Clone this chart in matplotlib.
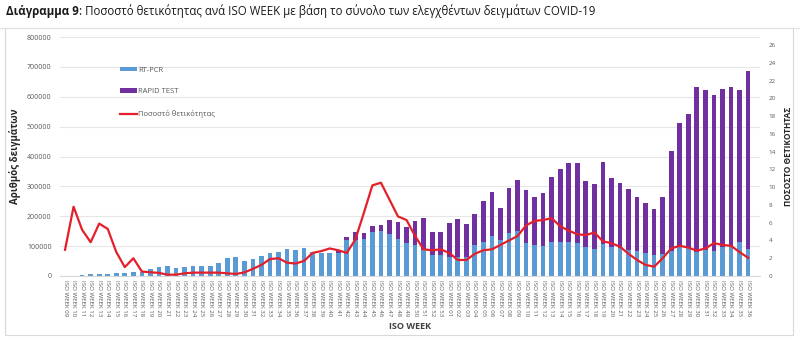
import matplotlib.pyplot as plt
from matplotlib.patches import Patch, Rectangle
from matplotlib.lines import Line2D

plt.rcParams['font.family'] = ['Open Sans', 'DejaVu Sans']

# ISO weeks: 2020 W09..W53, then 2021 W01..W36
weeks = [f"ISO WEEK {w:02d}" for w in range(9, 54)] + [f"ISO WEEK {w:02d}" for w in range(1, 37)]

rt_pcr = [
    0, 0, 3000, 6500, 7500, 8000, 9000, 10000, 12000, 15000,
    25000, 29000, 33000, 26000, 29000, 33000, 33000, 33000, 42000, 61000,
    62000, 51000, 56000, 66000, 78000, 81000, 90000, 86000, 95000, 81000,
    76000, 76000, 77000, 120000, 122000, 123000, 147000, 151000, 140000, 124000,
    109000, 103000, 87000, 71000, 69000,
    64000, 64000, 64000, 103000, 114000, 133000, 122000, 144000, 150000, 109000,
    104000, 100000, 113000, 114000, 114000, 109000, 96000, 92000, 108000, 97000,
    93000, 87000, 85000, 78000, 70000, 73000, 85000, 96000, 93000, 81000,
    87000, 85000, 96000, 96000, 115000, 92000,
]

rapid_test = [
    0, 0, 0, 0, 0, 0, 0, 0, 0, 0,
    0, 0, 0, 0, 0, 0, 0, 0, 0, 0,
    0, 0, 0, 0, 0, 0, 0, 0, 0, 0,
    0, 0, 6000, 9000, 24000, 21000, 20000, 19000, 47000, 58000,
    55000, 81000, 106000, 76000, 78000,
    115000, 128000, 109000, 106000, 137000, 147000, 107000, 149000, 172000, 179000,
    160000, 179000, 219000, 245000, 264000, 270000, 221000, 215000, 274000, 232000,
    217000, 203000, 180000, 167000, 153000, 192000, 334000, 417000, 448000, 552000,
    537000, 522000, 529000, 537000, 507000, 595000,
]

positivity = [
    2.95, 7.8, 5.2, 3.8, 5.9, 5.3, 2.7, 1.0, 2.0, 0.5,
    0.42, 0.35, 0.15, 0.15, 0.3, 0.38, 0.38, 0.38, 0.38, 0.3,
    0.23, 0.4, 0.8, 1.25, 1.9, 2.0, 1.5, 1.4, 1.7, 2.6,
    2.8, 3.1, 2.9, 2.6, 4.1, 7.1, 10.2, 10.5, 8.6, 6.7,
    6.3, 4.5, 3.0, 2.9, 3.0,
    2.6, 1.8, 1.8, 2.5, 2.9, 3.0, 3.5, 4.0, 4.5, 5.7,
    6.2, 6.3, 6.5, 5.6, 5.1, 4.7, 4.6, 4.9, 3.9, 3.7,
    3.3, 2.5, 1.8, 1.25, 1.05, 2.0, 3.1, 3.4, 3.2, 2.85,
    3.1, 3.7, 3.5, 3.4, 2.7, 2.05,
]

BLUE = "#5b9bd5"
PURPLE = "#7030a0"
RED = "#e3202a"
GREY_TXT = "#595959"

fig = plt.figure(figsize=(8, 3.4), dpi=100)
fig.patch.set_facecolor("white")

# frame around the chart
fig.add_artist(Rectangle((5 / 800, 5 / 340), 788 / 800, 307 / 340, transform=fig.transFigure,
                         fill=False, edgecolor="#d9d9d9", linewidth=0.8))

ax = fig.add_axes([60 / 800, 1 - 276 / 340, 700 / 800, 239 / 340])
x = list(range(len(weeks)))
ax.bar(x, rt_pcr, width=0.55, color=BLUE, zorder=2)
ax.bar(x, rapid_test, width=0.55, bottom=rt_pcr, color=PURPLE, zorder=2)

ax.set_xlim(-0.59, 81.4)
ax.set_ylim(0, 800000)
ax.set_yticks(range(0, 800001, 100000))
ax.yaxis.grid(True, color="#e6e6e6", linewidth=0.8, zorder=0)
ax.set_axisbelow(True)
for s in ["top", "right", "left"]:
    ax.spines[s].set_visible(False)
ax.spines["bottom"].set_color("#d9d9d9")
ax.set_xticks(x)
ax.set_xticklabels(weeks, rotation=270, fontsize=4.4, color=GREY_TXT)
ax.tick_params(axis="x", length=0, pad=3)
ax.tick_params(axis="y", length=0, labelsize=5, labelcolor=GREY_TXT, pad=6)
ax.set_xlabel("ISO WEEK", fontsize=6.5, fontweight="bold", color="#404040", labelpad=4)
ax.set_ylabel("Αριθμός δειγμάτων", fontsize=7, fontweight="bold", color="#262626", labelpad=4)

ax2 = ax.twinx()
ax2.plot(x, positivity, color=RED, linewidth=1.6, zorder=3)
ax2.set_ylim(0, 26.9)
ax2.set_yticks(range(0, 27, 2))
for s in ["top", "right", "left", "bottom"]:
    ax2.spines[s].set_visible(False)
ax2.tick_params(axis="y", length=0, labelsize=4.5, labelcolor=GREY_TXT, pad=6)
ax2.set_ylabel("ΠΟΣΟΣΤΟ ΘΕΤΙΚΟΤΗΤΑΣ", fontsize=6, fontweight="bold", color="#262626", labelpad=6)

handles = [
    Patch(facecolor=BLUE, edgecolor="none", label="RT-PCR"),
    Patch(facecolor=PURPLE, edgecolor="none", label="RAPID TEST"),
    Line2D([0], [0], color=RED, linewidth=1.6, label="Ποσοστό θετικότητας"),
]
fig.legend(handles=handles, loc="upper left", bbox_to_anchor=(113 / 800, 1 - 60 / 340),
           frameon=False, fontsize=5.5, labelcolor=GREY_TXT, handlelength=2.2,
           handleheight=0.5, labelspacing=1.9, handletextpad=0.2)

# title: bold lead-in, then normal text
t1 = fig.text(6 / 800, 1 - 11 / 340, "Διάγραμμα 9", fontsize=8.3, fontweight="bold",
              va="center", ha="left", color="#1a1a1a")
fig.canvas.draw()
bb = t1.get_window_extent(renderer=fig.canvas.get_renderer())
fig.text(bb.x1 / fig.bbox.width, 1 - 11 / 340,
         ": Ποσοστό θετικότητας ανά ISO WEEK με βάση το σύνολο των ελεγχθέντων δειγμάτων COVID-19",
         fontsize=8.3, va="center", ha="left", color="#1a1a1a")
fig.add_artist(Line2D([0, 1], [1 - 28 / 340, 1 - 28 / 340], transform=fig.transFigure,
                      color="#e0e0e0", linewidth=0.8))

fig.savefig("out.png", dpi=100)
